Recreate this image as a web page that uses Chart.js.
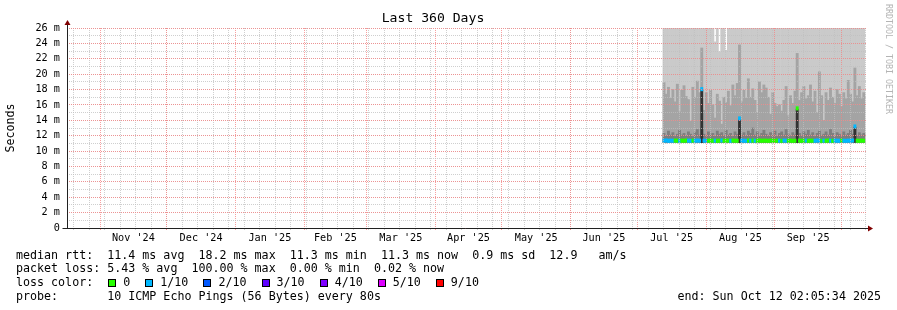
<!DOCTYPE html>
<html>
<head>
<meta charset="utf-8">
<script src="https://cdn.jsdelivr.net/npm/chart.js@4.4.1/dist/chart.umd.min.js"></script>
<style>
html,body{margin:0;padding:0;background:#fff;}
#wrap{position:relative;width:897px;height:310px;overflow:hidden;font-family:"DejaVu Sans Mono",monospace;background:#fff;}
#c{position:absolute;left:0;top:0;}
.leg{position:absolute;left:16px;font-size:11.66px;line-height:14px;white-space:pre;color:#000;}
.box{display:inline-block;width:6px;height:6px;border:1px solid #000;margin-left:1px;margin-right:7px;vertical-align:-1px;}
#wm{position:absolute;left:883px;top:4px;writing-mode:vertical-rl;font-size:8.3px;line-height:11px;color:#b4b4b4;white-space:pre;}
</style>
</head>
<body>
<div id="wrap">
<canvas id="c" width="897" height="310"></canvas>
<div class="leg" style="top:247.5px">median rtt:  11.4 ms avg  18.2 ms max  11.3 ms min  11.3 ms now  0.9 ms sd  12.9   am/s</div>
<div class="leg" style="top:261px">packet loss: 5.43 % avg  100.00 % max  0.00 % min  0.02 % now</div>
<div class="leg" id="lossrow" style="top:275px">loss color:  </div>
<div class="leg" style="top:289px">probe:       10 ICMP Echo Pings (56 Bytes) every 80s</div>
<div class="leg" style="top:289px;left:auto;right:16px">end: Sun Oct 12 02:05:34 2025</div>
<div id="wm">RRDTOOL / TOBI OETIKER</div>
</div>
<script>
// ---------------- data ----------------
const graphTitle = 'Last 360 Days';
const graphStart = Date.UTC(2024, 9, 17, 2, 5, 34);   // 360 days before end
const spanDays = 360;
const firstColumnDay = 269;                            // first daily sample (days after graph start)
const firstSunday = '2024-10-20';
const monthStarts = ['2024-11-01','2024-12-01','2025-01-01','2025-02-01','2025-03-01','2025-04-01',
                     '2025-05-01','2025-06-01','2025-07-01','2025-08-01','2025-09-01','2025-10-01'];
const monthLabels = ["Nov '24","Dec '24","Jan '25","Feb '25","Mar '25","Apr '25",
                     "May '25","Jun '25","Jul '25","Aug '25","Sep '25"];
const yTickValues = [0,2,4,6,8,10,12,14,16,18,20,22,24,26];
const yMinorValues = [0,1,2,3,4,5,6,7,8,9,10,11,12,13,14,15,16,17,18,19,20,21,22,23,24,25,26];

// ms, one value per daily column
const minRtt = [
11.10,11.08,11.12,11.10,11.09,11.11,11.10,11.08,11.12,11.10,
11.09,11.11,11.10,11.12,11.08,11.10,11.11,11.09,11.10,11.12,
11.10,11.08,11.11,11.10,11.09,11.12,11.10,11.11,11.08,11.10,
11.12,11.09,11.10,11.11,11.10,11.08,11.12,11.10,11.09,11.11,
11.10,11.12,11.08,11.10,11.11,11.09,11.10,11.12,11.10,11.08,
11.11,11.10,11.09,11.12,11.10,11.11,11.08,11.10,11.12,11.09,
11.10,11.11,11.10,11.08,11.12,11.10,11.09,11.11,11.10,11.12,
11.08,11.10,11.11,11.09,11.10,11.12,11.10,11.08,11.11,11.10,
11.09,11.12,11.10,11.11,11.08,11.10,11.12,11.09,11.10,11.11,11.10];
const maxRtt = [
31.2,29.8,33.5,28.7,30.4,32.1,29.0,34.6,30.8,28.9,
31.7,29.5,33.0,30.2,28.6,32.8,31.1,38.4,29.9,30.6,
28.8,31.9,29.3,24.2,30.7,22.9,32.4,29.6,23.1,31.3,
30.0,28.5,33.2,29.7,37.9,31.0,29.4,32.6,30.3,28.8,
31.5,29.1,30.9,33.7,28.6,31.8,30.1,29.2,32.3,30.5,
28.9,31.4,29.8,30.6,33.1,29.0,31.6,28.7,30.2,32.0,
36.5,29.6,31.2,30.0,28.8,32.5,29.9,31.0,30.4,28.6,
33.4,29.3,31.7,30.1,28.9,32.2,30.7,29.5,31.3,28.8,
30.6,32.9,29.4,31.1,30.0,28.7,35.2,29.8,31.5,30.3,29.1];
const p9Rtt = [
18.9,17.4,18.3,16.9,18.0,16.4,18.7,15.1,17.9,18.5,
17.1,16.7,13.9,18.3,17.0,19.1,17.6,23.4,15.3,17.6,
16.2,17.9,16.0,14.3,17.4,16.5,13.5,17.0,16.3,17.8,
15.9,18.6,17.2,18.8,23.8,16.4,17.9,16.9,19.4,17.0,
18.1,16.6,15.0,19.0,17.6,18.6,18.2,17.0,14.8,17.6,
16.2,15.8,16.0,15.2,16.6,18.4,14.6,17.2,16.2,17.8,
22.7,16.6,17.6,18.4,16.8,17.2,18.6,16.4,17.8,15.0,
20.3,17.2,14.0,17.6,16.6,18.2,17.0,16.2,18.0,17.4,
15.8,17.6,16.8,19.2,17.4,16.4,20.8,17.2,18.4,16.8,17.6];
const p8Rtt = [
12.3,12.0,12.6,12.1,12.4,11.9,12.2,12.7,12.1,12.3,
12.0,12.5,12.2,11.9,12.4,12.8,12.1,12.9,12.2,12.0,
12.5,12.1,12.3,11.9,12.6,12.2,12.4,12.0,12.7,12.1,
12.3,11.9,12.5,12.2,12.8,12.1,12.4,12.0,12.6,12.3,
13.0,12.1,12.5,11.9,12.3,12.7,12.2,12.0,12.4,12.1,
12.6,11.9,12.3,12.5,12.1,12.8,12.2,12.0,12.4,12.1,
12.9,12.3,12.0,12.5,12.2,12.7,12.1,12.4,11.9,12.3,
12.6,12.0,12.2,12.5,12.1,12.8,12.3,11.9,12.4,12.2,
12.0,12.5,12.1,12.3,12.7,12.2,12.9,12.0,12.4,12.1,12.3];
const medRtt = [
11.35,11.38,11.33,11.36,11.34,11.37,11.35,11.32,11.36,11.34,
11.38,11.35,11.33,11.36,11.34,11.37,11.35,18.05,11.36,11.33,
11.35,11.37,11.34,11.36,11.33,11.35,11.38,11.34,11.36,11.35,
11.33,11.37,11.35,11.34,14.25,11.36,11.35,11.33,11.37,11.34,
11.36,11.35,11.33,11.38,11.34,11.36,11.35,11.33,11.37,11.35,
11.34,11.36,11.35,11.33,11.37,11.35,11.34,11.36,11.33,11.35,
15.55,11.36,11.34,11.35,11.37,11.33,11.36,11.35,11.34,11.38,
11.35,11.33,11.36,11.34,11.37,11.35,11.33,11.36,11.35,11.34,
11.37,11.35,11.33,11.36,11.34,11.38,13.20,11.35,11.33,11.36,11.35];
const lossIdx = [
1,1,1,1,1,0,0,1,0,0,
0,1,1,0,1,1,1,1,1,1,
0,0,0,1,0,0,1,0,0,0,
1,0,0,0,1,1,1,1,0,1,
0,1,0,0,0,0,0,0,0,0,
0,0,1,0,1,1,0,0,0,0,
0,0,0,0,1,0,0,0,1,1,
1,0,1,0,0,1,0,1,1,1,
0,1,1,1,1,1,1,0,0,0,0];
// p5..p6 spread on the spike days (column index, top ms)
const spreadColumn = [17, 34, 60, 86];
const spreadTop = [17.95, 14.15, 15.45, 13.10];

const lossLabels = ['0','1/10','2/10','3/10','4/10','5/10','9/10'];
const lossColors = ['#26ff00','#00b8ff','#0059ff','#5e00ff','#7e00ff','#dd00ff','#ff0000'];

// ---------------- helpers ----------------
const DAY = 86400000;
const dayOf = s => (Date.parse(s + 'T00:00:00Z') - graphStart) / DAY;
const monthDays = monthStarts.map(dayOf);
const monthMid = monthLabels.map((_, i) => (monthDays[i] + monthDays[i + 1]) / 2);
const weekDays = [];
for (let d = dayOf(firstSunday); d < spanDays; d += 7) weekDays.push(d);
const colX = p9Rtt.map((_, i) => firstColumnDay + i);
const band = (lo, hi) => colX.map((x, i) => ({x: x, y: [lo[i], hi[i]]}));

const FONT = "'DejaVu Sans Mono', monospace";
const GRID = 'rgba(191,191,191,0.75)';
const MGRID = 'rgba(245,128,128,0.75)';

// legend boxes
const row = document.getElementById('lossrow');
lossLabels.forEach((l, i) => {
  const b = document.createElement('span');
  b.className = 'box'; b.style.background = lossColors[i];
  row.appendChild(b);
  row.appendChild(document.createTextNode(l + (i < lossLabels.length - 1 ? '  ' : '')));
});

const barCommon = {type: 'bar', grouped: false, barPercentage: 1, categoryPercentage: 1, borderWidth: 0};

const axesPlugin = {
  id: 'rrdAxes',
  afterDraw(chart) {
    const {ctx, chartArea: a} = chart;
    const y0 = Math.round(chart.scales.y.getPixelForValue(0)) + 0.5;
    const x0 = Math.round(a.left) + 0.5;
    ctx.save();
    ctx.strokeStyle = '#212121'; ctx.lineWidth = 1;
    ctx.beginPath();
    ctx.moveTo(x0 - 5, y0); ctx.lineTo(a.right + 3, y0);
    ctx.moveTo(x0, y0); ctx.lineTo(x0, a.top - 4);
    ctx.stroke();
    ctx.fillStyle = '#800000';
    ctx.beginPath();
    ctx.moveTo(a.right + 2, y0 - 3); ctx.lineTo(a.right + 7, y0); ctx.lineTo(a.right + 2, y0 + 3); ctx.closePath();
    ctx.fill();
    ctx.beginPath();
    ctx.moveTo(x0 - 3, a.top - 3); ctx.lineTo(x0, a.top - 8); ctx.lineTo(x0 + 3, a.top - 3); ctx.closePath();
    ctx.fill();
    ctx.restore();
  }
};

new Chart(document.getElementById('c'), {
  type: 'bar',
  data: {
    datasets: [
      Object.assign({}, barCommon, {label: 'median', order: 1,
        data: colX.map((x, i) => ({x: x, y: [medRtt[i] - 0.22, medRtt[i] + 0.22]})),
        backgroundColor: ctx => lossColors[lossIdx[ctx.dataIndex]] }),
      Object.assign({}, barCommon, {label: 'p5-p6', order: 2,
        data: spreadColumn.map((c, k) => ({x: colX[c], y: [minRtt[c], spreadTop[k]]})),
        backgroundColor: '#323232'}),
      Object.assign({}, barCommon, {label: 'p3-p8', order: 3, data: band(minRtt, p8Rtt), backgroundColor: '#7e7e7e'}),
      Object.assign({}, barCommon, {label: 'p2-p9', order: 4, data: band(minRtt, p9Rtt), backgroundColor: '#a4a4a4'}),
      Object.assign({}, barCommon, {label: 'p1-p10', order: 5, data: band(minRtt, maxRtt), backgroundColor: '#cacaca'})
    ]
  },
  options: {
    responsive: false,
    animation: false,
    devicePixelRatio: 1,
    layout: {padding: {left: 0, right: 31, top: 0, bottom: 62}},
    plugins: {
      legend: {display: false},
      tooltip: {enabled: false},
      title: {display: true, text: graphTitle, color: '#000',
              font: {family: FONT, size: 13.12, weight: 'normal'}, padding: {top: 11, bottom: 1.26}}
    },
    scales: {
      x: {type: 'linear', position: 'bottom', min: 0, max: spanDays, offset: false,
          afterBuildTicks: s => { s.ticks = weekDays.map(v => ({value: v})); },
          ticks: {display: false},
          grid: {offset: false, color: GRID, lineWidth: 1, z: 1, drawTicks: true, tickLength: 2, tickColor: GRID},
          border: {display: false, dash: [1, 1]},
          afterFit: s => { s.height = 0; }},
      xm: {type: 'linear', position: 'bottom', min: 0, max: spanDays, offset: false,
          afterBuildTicks: s => { s.ticks = monthDays.map(v => ({value: v})); },
          ticks: {display: false},
          grid: {offset: false, color: MGRID, lineWidth: 1, z: 1, drawTicks: true, tickLength: 2, tickColor: MGRID},
          border: {display: false, dash: [1, 1]},
          afterFit: s => { s.height = 0; }},
      xl: {type: 'linear', position: 'bottom', min: 0, max: spanDays, offset: false,
          afterBuildTicks: s => { s.ticks = monthMid.map(v => ({value: v})); },
          ticks: {display: true, autoSkip: false, maxRotation: 0, minRotation: 0, padding: 4, color: '#000',
                  font: {family: FONT, size: 10.2}, callback: (v, i) => monthLabels[i]},
          grid: {display: false, offset: false, drawTicks: false}, border: {display: false},
          afterFit: s => { s.height = 20; }},
      y2: {type: 'linear', position: 'left', min: 0, max: 26,
          afterBuildTicks: s => { s.ticks = yMinorValues.map(v => ({value: v})); },
          ticks: {display: false},
          grid: {color: GRID, lineWidth: 1, z: 1, drawTicks: false},
          border: {display: false, dash: [1, 1]},
          afterFit: s => { s.width = 0; }},
      y: {type: 'linear', position: 'left', min: 0, max: 26,
          afterBuildTicks: s => { s.ticks = yTickValues.map(v => ({value: v})); },
          ticks: {padding: 7, color: '#000', font: {family: FONT, size: 10.2},
                  callback: v => (v === 0 ? '0' : v + ' m')},
          grid: {color: MGRID, lineWidth: 1, z: 1, drawTicks: false},
          border: {display: false, dash: [1, 1]},
          title: {display: true, text: 'Seconds', color: '#000', font: {family: FONT, size: 11.66},
                  padding: {top: 4, bottom: 0}},
          afterFit: s => { s.width = 67; }}
    }
  },
  plugins: [axesPlugin]
});
</script>
</body>
</html>
